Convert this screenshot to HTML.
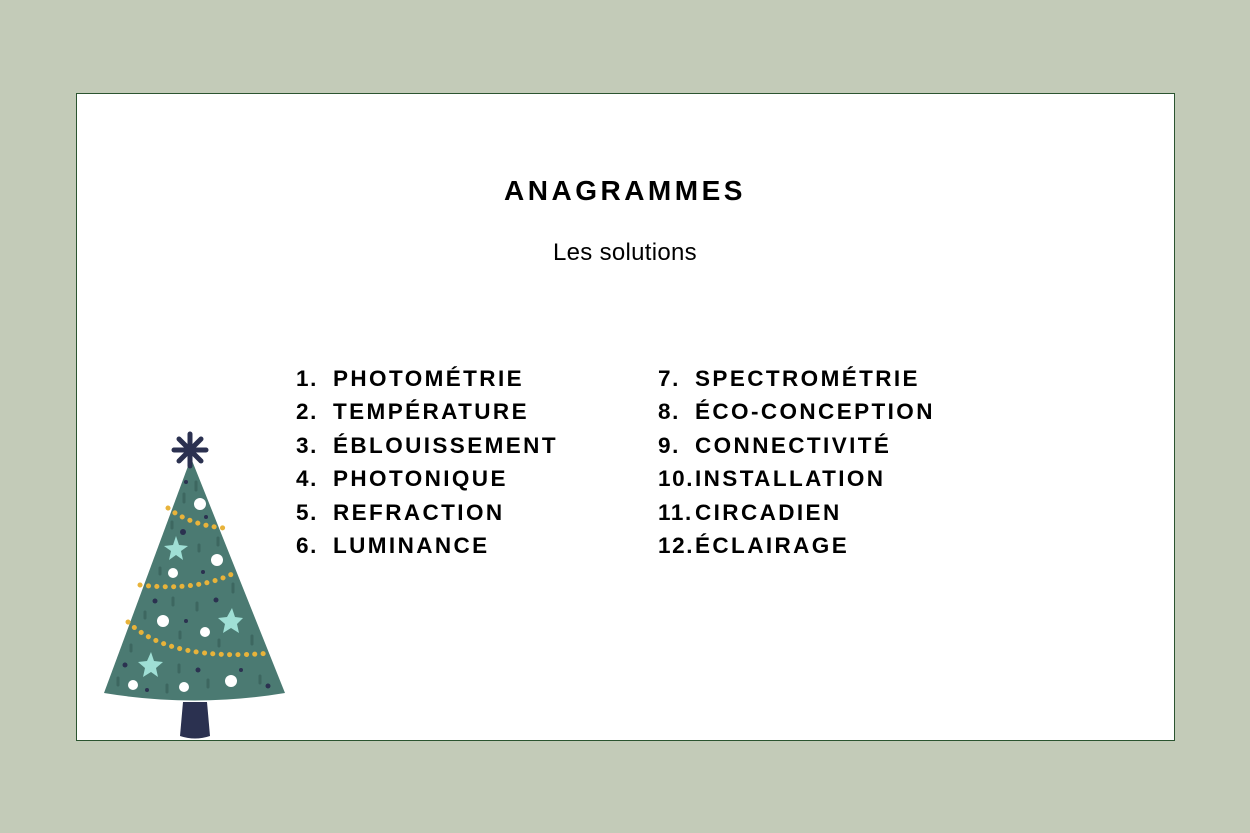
<!DOCTYPE html>
<html><head><meta charset="utf-8"><style>
html,body{margin:0;padding:0}
body{width:1250px;height:833px;background:#c3cbb8;position:relative;overflow:hidden;font-family:"Liberation Sans",sans-serif}
.box{position:absolute;left:76px;top:93px;width:1097px;height:646px;background:#fff;border:1.5px solid #2b5430}
.t{position:absolute;left:0;width:1250px;text-align:center;color:#000}
.li{position:absolute;font-weight:bold;font-size:22.5px;letter-spacing:2.4px;color:#000;white-space:nowrap;line-height:33.4px}
.li div{position:relative}
.li span{position:absolute;left:0;letter-spacing:1.6px}
</style></head><body>
<div class="box"></div>
<div class="t" style="top:175px;font-size:28px;font-weight:bold;letter-spacing:3.5px">ANAGRAMMES</div>
<div class="t" style="top:239px;font-size:24px;letter-spacing:0.3px">Les solutions</div>
<div class="li" style="left:296px;top:362px">
<div><span>1.</span><b style="margin-left:37px">PHOTOMÉTRIE</b></div>
<div><span>2.</span><b style="margin-left:37px">TEMPÉRATURE</b></div>
<div><span>3.</span><b style="margin-left:37px">ÉBLOUISSEMENT</b></div>
<div><span>4.</span><b style="margin-left:37px">PHOTONIQUE</b></div>
<div><span>5.</span><b style="margin-left:37px">REFRACTION</b></div>
<div><span>6.</span><b style="margin-left:37px">LUMINANCE</b></div>
</div>
<div class="li" style="left:658px;top:362px">
<div><span>7.</span><b style="margin-left:37px">SPECTROMÉTRIE</b></div>
<div><span>8.</span><b style="margin-left:37px">ÉCO-CONCEPTION</b></div>
<div><span>9.</span><b style="margin-left:37px">CONNECTIVITÉ</b></div>
<div><span>10.</span><b style="margin-left:37px">INSTALLATION</b></div>
<div><span>11.</span><b style="margin-left:37px">CIRCADIEN</b></div>
<div><span>12.</span><b style="margin-left:37px">ÉCLAIRAGE</b></div>
</div>
<svg style="position:absolute;left:0;top:0" width="1250" height="833">
<path d="M183,702 L207,702 L210,736 Q195,741 180,736 Z" fill="#2b3150"/>
<path d="M191,458 L285,693 Q195,708 104,693 Z" fill="#4b7a72"/>
<g stroke="#2b3150" stroke-width="5" stroke-linecap="round">
<line x1="190" y1="434" x2="190" y2="466"/><line x1="174" y1="450" x2="206" y2="450"/>
<line x1="179" y1="439" x2="201" y2="461"/><line x1="201" y1="439" x2="179" y2="461"/>
</g>
<g fill="#fff"><circle cx="200" cy="504" r="6"/><circle cx="217" cy="560" r="6"/><circle cx="173" cy="573" r="5"/><circle cx="163" cy="621" r="6"/><circle cx="205" cy="632" r="5"/><circle cx="231" cy="681" r="6"/><circle cx="133" cy="685" r="5"/><circle cx="184" cy="687" r="5"/></g>
<g fill="#2b3150"><circle cx="183" cy="532" r="3"/><circle cx="206" cy="517" r="2"/><circle cx="203" cy="572" r="2"/><circle cx="155" cy="601" r="2.5"/><circle cx="216" cy="600" r="2.5"/><circle cx="186" cy="621" r="2"/><circle cx="125" cy="665" r="2.5"/><circle cx="198" cy="670" r="2.5"/><circle cx="241" cy="670" r="2"/><circle cx="147" cy="690" r="2"/><circle cx="268" cy="686" r="2.5"/><circle cx="186" cy="482" r="2"/></g>
<g fill="#9fdfd5">
<polygon points="176,536 179,545 188,546 181,551 183,560 176,555 169,560 171,551 164,546 173,545"/>
<polygon points="232,608 235,617 243,618 237,624 239,633 231,628 223,633 225,624 218,618 227,617"/>
<polygon points="151,652 154,661 163,662 156,668 158,677 151,672 143,677 145,668 138,662 147,661"/>
</g>
<g fill="none" stroke="#e8b33a" stroke-width="5" stroke-dasharray="0.1 8.3" stroke-linecap="round">
<path d="M168,508 Q190,525 224,528"/>
<path d="M140,585 Q200,592 238,571"/>
<path d="M128,622 Q170,662 271,653"/>
</g>
<g stroke="#3d6760" stroke-width="3" stroke-linecap="round">
<line x1="196" y1="482" x2="196" y2="490"/><line x1="184" y1="494" x2="184" y2="502"/><line x1="172" y1="522" x2="172" y2="528"/><line x1="218" y1="538" x2="218" y2="545"/><line x1="199" y1="545" x2="199" y2="551"/><line x1="160" y1="568" x2="160" y2="574"/><line x1="233" y1="584" x2="233" y2="592"/><line x1="173" y1="598" x2="173" y2="605"/><line x1="197" y1="603" x2="197" y2="610"/><line x1="145" y1="612" x2="145" y2="618"/><line x1="180" y1="632" x2="180" y2="638"/><line x1="219" y1="640" x2="219" y2="646"/><line x1="252" y1="636" x2="252" y2="644"/><line x1="131" y1="645" x2="131" y2="651"/><line x1="179" y1="665" x2="179" y2="672"/><line x1="260" y1="676" x2="260" y2="683"/><line x1="118" y1="678" x2="118" y2="685"/><line x1="167" y1="685" x2="167" y2="692"/><line x1="208" y1="680" x2="208" y2="687"/></g>
</svg>
</body></html>
